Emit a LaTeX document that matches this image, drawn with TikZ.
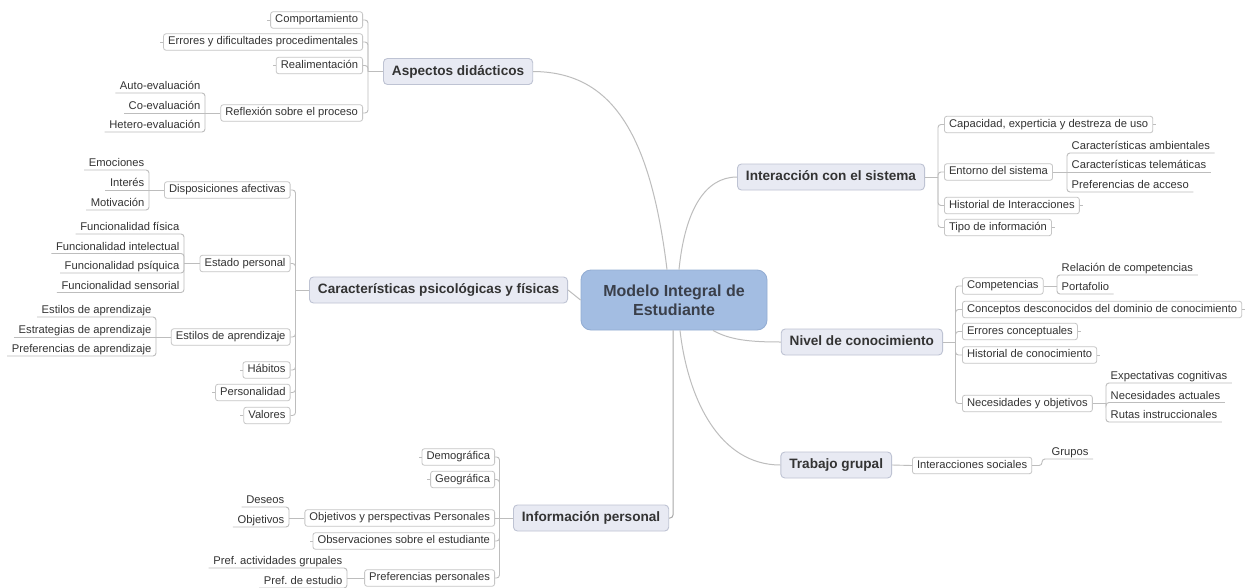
\documentclass[tikz,border=0pt]{standalone}
\usepackage{fontspec}
\setmainfont{Liberation Sans}
\frenchspacing
\definecolor{txt}{HTML}{333333}
\definecolor{lnk}{HTML}{BDBDBD}
\definecolor{vlnk}{HTML}{A8A8A8}
\definecolor{brd}{HTML}{C6C6C6}
\definecolor{mainfill}{HTML}{E8EAF3}
\definecolor{mainbrd}{HTML}{BEC3D3}
\definecolor{cfill}{HTML}{A3BDE2}
\definecolor{cbrd}{HTML}{93ADD3}
\definecolor{ctxt}{HTML}{3A3F4A}
\tikzset{
  conn/.style={draw=lnk, line width=0.9pt, rounded corners=3pt},
  curve/.style={draw=lnk, line width=1pt},
  sub/.style={draw=brd, fill=white, rounded corners=2.5pt, line width=0.8pt,
    font=\fontsize{11.2}{13}\selectfont, text=txt, inner xsep=4.6pt, inner ysep=3pt,
    text height=8pt, text depth=2.5pt},
  leaf/.style={font=\fontsize{11.2}{13}\selectfont, text=txt, inner xsep=4.5pt,
    inner ysep=0.6pt, text height=8pt, text depth=2.5pt},
  branch/.style={draw=mainbrd, fill=mainfill, rounded corners=4pt, line width=0.9pt,
    font=\bfseries\fontsize{13.6}{16}\selectfont, text=txt, inner xsep=8.5pt,
    text height=10pt, text depth=3pt, minimum height=26pt},
  central/.style={draw=cbrd, fill=cfill, rounded corners=10pt, line width=0.9pt,
    minimum width=186pt, minimum height=60pt, align=center,
    font=\bfseries\fontsize{16}{19}\selectfont, text=ctxt}
}
\begin{document}
\begin{tikzpicture}[x=1pt,y=-1pt]
\fill[white] (0,0) rectangle (1245,587);
\useasboundingbox (0,0) rectangle (1245,587);

% central
\node[central] (M) at (674,300) {Modelo Integral de\\Estudiante};

% branches
\node[branch, anchor=west] (A) at (383,71.5) {Aspectos didácticos};
\node[branch, anchor=west] (C) at (309,290) {Características psicológicas y físicas};
\node[branch, anchor=west] (I) at (513,518) {Información personal};
\node[branch, anchor=east] (S) at (925,177) {Interacción con el sistema};
\node[branch, anchor=east] (N) at (943,342) {Nivel de conocimiento};
\node[branch, anchor=east] (T) at (892,465) {Trabajo grupal};

% main connectors
\draw[curve] (A.east) .. controls (610,72) and (650,130) .. ([xshift=-7pt]M.north);
\draw[curve] ([xshift=5pt]M.north) .. controls (685,210) and (705,177) .. (S.west);
\draw[curve] ([xshift=39pt]M.south) .. controls (730,340) and (750,342) .. (N.west);
\draw[curve] ([xshift=6pt]M.south) .. controls (688,400) and (720,465) .. (T.west);
\draw[curve, draw=vlnk, rounded corners=3pt] ([xshift=-1pt]M.south) |- (I.east);
\draw[curve] (C.east) -- (M.west);

% ---------- Aspectos didacticos
\node[sub, anchor=east] (a1) at (363,20) {Comportamiento};
\node[sub, anchor=east] (a2) at (363,42) {Errores y dificultades procedimentales};
\node[sub, anchor=east] (a3) at (363,65.5) {Realimentación};
\node[sub, anchor=east] (a4) at (363,113) {Reflexión sobre el proceso};
\coordinate (bA) at (368,71.5);
\foreach \n in {a1,a2,a3,a4} \draw[conn] (\n.east) -- (\n.east -| bA) -- (bA);
\draw[conn] (bA) -- (A.west);

\node[leaf, anchor=south east] (a41) at (205,93) {Auto-evaluación};
\node[leaf, anchor=south east] (a42) at (205,113) {Co-evaluación};
\node[leaf, anchor=south east] (a43) at (205,132) {Hetero-evaluación};
\coordinate (bA4) at (205,113);
\draw[conn] (a41.south west) -- (a41.south east) -- (a41.south east |- bA4);
\draw[conn] (a42.south west) -- (a42.south east);
\draw[conn] (a43.south west) -- (a43.south east) -- (a43.south east |- bA4);
\draw[conn] (bA4) -- (a4.west);

% ---------- Caracteristicas
\node[sub, anchor=east] (c1) at (290.5,190) {Disposiciones afectivas};
\node[sub, anchor=east] (c2) at (290.5,263.5) {Estado personal};
\node[sub, anchor=east] (c3) at (290.5,337) {Estilos de aprendizaje};
\node[sub, anchor=east] (c4) at (290.5,370) {Hábitos};
\node[sub, anchor=east] (c5) at (290.5,392.5) {Personalidad};
\node[sub, anchor=east] (c6) at (290.5,415.5) {Valores};
\coordinate (bC) at (295.5,290);
\foreach \n in {c1,c2,c3,c4,c5,c6} \draw[conn] (\n.east) -- (\n.east -| bC) -- (bC);
\draw[conn] (bC) -- (C.west);

\node[leaf, anchor=south east] (c11) at (149,170) {Emociones};
\node[leaf, anchor=south east] (c12) at (149,190) {Interés};
\node[leaf, anchor=south east] (c13) at (149,210) {Motivación};
\coordinate (bC1) at (149,190);
\draw[conn] (c11.south west) -- (c11.south east) -- (c11.south east |- bC1);
\draw[conn] (c12.south west) -- (c12.south east);
\draw[conn] (c13.south west) -- (c13.south east) -- (c13.south east |- bC1);
\draw[conn] (bC1) -- (c1.west);

\node[leaf, anchor=south east] (c21) at (184,234) {Funcionalidad física};
\node[leaf, anchor=south east] (c22) at (184,253.5) {Funcionalidad intelectual};
\node[leaf, anchor=south east] (c23) at (184,273) {Funcionalidad psíquica};
\node[leaf, anchor=south east] (c24) at (184,292.5) {Funcionalidad sensorial};
\coordinate (bC2) at (184,263.5);
\foreach \n in {c21,c22,c23,c24} \draw[conn] (\n.south west) -- (\n.south east) -- (\n.south east |- bC2);
\draw[conn] (bC2) -- (c2.west);

\node[leaf, anchor=south east] (c31) at (156,317) {Estilos de aprendizaje};
\node[leaf, anchor=south east] (c32) at (156,337) {Estrategias de aprendizaje};
\node[leaf, anchor=south east] (c33) at (156,356) {Preferencias de aprendizaje};
\coordinate (bC3) at (156,337);
\draw[conn] (c31.south west) -- (c31.south east) -- (c31.south east |- bC3);
\draw[conn] (c32.south west) -- (c32.south east);
\draw[conn] (c33.south west) -- (c33.south east) -- (c33.south east |- bC3);
\draw[conn] (bC3) -- (c3.west);

% ---------- Informacion personal
\node[sub, anchor=east] (i1) at (495,457) {Demográfica};
\node[sub, anchor=east] (i2) at (495,479.5) {Geográfica};
\node[sub, anchor=east] (i3) at (495,518) {Objetivos y perspectivas Personales};
\node[sub, anchor=east] (i4) at (495,541) {Observaciones sobre el estudiante};
\node[sub, anchor=east] (i5) at (495,578) {Preferencias personales};
\coordinate (bI) at (499.5,518);
\foreach \n in {i1,i2,i4,i5} \draw[conn] (\n.east) -- (\n.east -| bI) -- (bI);
\draw[conn] (i3.east) -- (I.west);

\node[leaf, anchor=south east] (i31) at (289,507) {Deseos};
\node[leaf, anchor=south east] (i32) at (289,527) {Objetivos};
\coordinate (bI3) at (289,518);
\foreach \n in {i31,i32} \draw[conn] (\n.south west) -- (\n.south east) -- (\n.south east |- bI3);
\draw[conn] (bI3) -- (i3.west);

\node[leaf, anchor=south east] (i51) at (347,568) {Pref. actividades grupales};
\node[leaf, anchor=south east] (i52) at (347,588) {Pref. de estudio};
\coordinate (bI5) at (347,578);
\foreach \n in {i51,i52} \draw[conn] (\n.south west) -- (\n.south east) -- (\n.south east |- bI5);
\draw[conn] (bI5) -- (i5.west);

% ---------- Interaccion con el sistema
\node[sub, anchor=west] (s1) at (944,124.5) {Capacidad, experticia y destreza de uso};
\node[sub, anchor=west] (s2) at (944,172) {Entorno del sistema};
\node[sub, anchor=west] (s3) at (944,205.5) {Historial de Interacciones};
\node[sub, anchor=west] (s4) at (944,227.5) {Tipo de información};
\coordinate (bS) at (938,177);
\foreach \n in {s1,s2,s3,s4} \draw[conn] (\n.west) -- (\n.west -| bS) -- (bS);
\draw[conn] (S.east) -- (bS);

\node[leaf, anchor=south west] (s21) at (1067,153) {Características ambientales};
\node[leaf, anchor=south west] (s22) at (1067,172) {Características telemáticas};
\node[leaf, anchor=south west] (s23) at (1067,192) {Preferencias de acceso};
\coordinate (bS2) at (1067,172);
\draw[conn] (s21.south east) -- (s21.south west) -- (s21.south west |- bS2);
\draw[conn] (s22.south east) -- (s22.south west);
\draw[conn] (s23.south east) -- (s23.south west) -- (s23.south west |- bS2);
\draw[conn] (s2.east) -- (bS2);

% ---------- Nivel de conocimiento
\node[sub, anchor=west] (n1) at (962,286) {Competencias};
\node[sub, anchor=west] (n2) at (962,309.5) {Conceptos desconocidos del dominio de conocimiento};
\node[sub, anchor=west] (n3) at (962,331.5) {Errores conceptuales};
\node[sub, anchor=west] (n4) at (962,355) {Historial de conocimiento};
\node[sub, anchor=west] (n5) at (962,403.5) {Necesidades y objetivos};
\coordinate (bN) at (955.5,342);
\foreach \n in {n1,n2,n3,n4,n5} \draw[conn] (\n.west) -- (\n.west -| bN) -- (bN);
\draw[conn] (N.east) -- (bN);

\node[leaf, anchor=south west] (n11) at (1057,275) {Relación de competencias};
\node[leaf, anchor=south west] (n12) at (1057,294) {Portafolio};
\coordinate (bN1) at (1057,286);
\foreach \n in {n11,n12} \draw[conn] (\n.south east) -- (\n.south west) -- (\n.south west |- bN1);
\draw[conn] (n1.east) -- (bN1);

\node[leaf, anchor=south west] (n51) at (1106,383) {Expectativas cognitivas};
\node[leaf, anchor=south west] (n52) at (1106,402.5) {Necesidades actuales};
\node[leaf, anchor=south west] (n53) at (1106,422) {Rutas instruccionales};
\coordinate (bN5) at (1106,403.5);
\foreach \n in {n51,n52,n53} \draw[conn] (\n.south east) -- (\n.south west) -- (\n.south west |- bN5);
\draw[conn] (n5.east) -- (bN5);

% ---------- Trabajo grupal
\node[sub, anchor=west] (t1) at (912,465.5) {Interacciones sociales};
\draw[conn] (T.east) -- (t1.west);
\node[leaf, anchor=south west] (g1) at (1047,459) {Grupos};
\coordinate (bT) at (1042,465.5);
\draw[conn] (t1.east) -- (bT) |- (g1.south west) -- (g1.south east);

% ---------- end ticks
\foreach \n in {a1,a2,a3,c4,c5,c6,i1,i2,i4} \draw[conn] (\n.west) -- ++(-3,0);
\foreach \n in {s1,s3,s4,n2,n3,n4} \draw[conn] (\n.east) -- ++(3,0);
\end{tikzpicture}
\end{document}
